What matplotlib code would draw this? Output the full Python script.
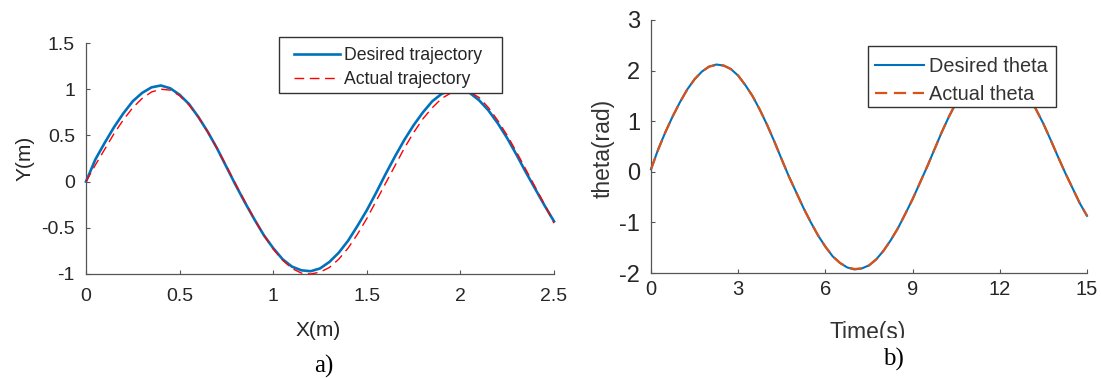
import matplotlib
matplotlib.use("Agg")
import matplotlib.pyplot as plt
from matplotlib.patches import Rectangle

# ---------------- data ----------------
x_pos = [0.00, 0.05, 0.10, 0.15, 0.20, 0.25, 0.30, 0.35, 0.40, 0.45,
         0.50, 0.55, 0.60, 0.65, 0.70, 0.75, 0.80, 0.85, 0.90, 0.95,
         1.00, 1.05, 1.10, 1.15, 1.20, 1.25, 1.30, 1.35, 1.40, 1.45,
         1.50, 1.55, 1.60, 1.65, 1.70, 1.75, 1.80, 1.85, 1.90, 1.95,
         2.00, 2.05, 2.10, 2.15, 2.20, 2.25, 2.30, 2.35, 2.40, 2.45, 2.50]
y_desired = [0.00, 0.24, 0.42, 0.59, 0.74, 0.87, 0.96, 1.02, 1.04, 1.01,
             0.94, 0.84, 0.70, 0.54, 0.36, 0.16, -0.04, -0.23, -0.41, -0.58,
             -0.72, -0.84, -0.92, -0.96, -0.97, -0.94, -0.87, -0.77, -0.64, -0.48,
             -0.31, -0.12, 0.08, 0.27, 0.45, 0.61, 0.75, 0.87, 0.95, 0.99,
             1.00, 0.96, 0.88, 0.77, 0.63, 0.47, 0.29, 0.10, -0.08, -0.26, -0.43]
y_actual = [0.00, 0.18, 0.35, 0.52, 0.67, 0.80, 0.90, 0.97, 1.00, 0.99,
            0.93, 0.83, 0.70, 0.54, 0.36, 0.17, -0.03, -0.22, -0.41, -0.58,
            -0.73, -0.85, -0.94, -0.99, -1.00, -0.98, -0.93, -0.84, -0.72, -0.57,
            -0.40, -0.21, -0.02, 0.17, 0.36, 0.53, 0.68, 0.80, 0.90, 0.96,
            0.99, 0.97, 0.91, 0.80, 0.66, 0.50, 0.32, 0.13, -0.06, -0.25, -0.45]

t_sec = [0.00, 0.25, 0.50, 0.75, 1.00, 1.25, 1.50, 1.75, 2.00, 2.25,
         2.50, 2.75, 3.00, 3.25, 3.50, 3.75, 4.00, 4.25, 4.50, 4.75,
         5.00, 5.25, 5.50, 5.75, 6.00, 6.25, 6.50, 6.75, 7.00, 7.25,
         7.50, 7.75, 8.00, 8.25, 8.50, 8.75, 9.00, 9.25, 9.50, 9.75,
         10.00, 10.25, 10.50, 10.75, 11.00, 11.25, 11.50, 11.75, 12.00, 12.25,
         12.50, 12.75, 13.00, 13.25, 13.50, 13.75, 14.00, 14.25, 14.50, 14.75, 15.00]
theta_desired = [0.05, 0.45, 0.79, 1.10, 1.38, 1.63, 1.83, 1.98, 2.08, 2.12,
                 2.10, 2.03, 1.90, 1.71, 1.49, 1.22, 0.92, 0.59, 0.24, -0.10,
                 -0.41, -0.72, -1.00, -1.26, -1.48, -1.67, -1.80, -1.89, -1.93, -1.91,
                 -1.85, -1.73, -1.56, -1.35, -1.11, -0.83, -0.54, -0.22, 0.10, 0.44,
                 0.78, 1.09, 1.37, 1.61, 1.81, 1.96, 2.06, 2.10, 2.08, 2.01,
                 1.88, 1.70, 1.47, 1.23, 0.95, 0.63, 0.30, -0.02, -0.32, -0.62, -0.87]
theta_actual = [0.05, 0.44, 0.79, 1.10, 1.38, 1.63, 1.83, 1.98, 2.08, 2.11,
                2.10, 2.03, 1.90, 1.71, 1.49, 1.22, 0.92, 0.59, 0.24, -0.10,
                -0.41, -0.72, -1.00, -1.26, -1.48, -1.67, -1.80, -1.89, -1.92, -1.91,
                -1.85, -1.73, -1.56, -1.35, -1.11, -0.83, -0.54, -0.22, 0.10, 0.44,
                0.78, 1.09, 1.37, 1.61, 1.81, 1.96, 2.06, 2.10, 2.08, 2.01,
                1.88, 1.70, 1.47, 1.23, 0.95, 0.63, 0.30, -0.02, -0.32, -0.62, -0.87]

x_ticks = [0, 0.5, 1, 1.5, 2, 2.5]
x_ticklabels = ["0", "0.5", "1", "1.5", "2", "2.5"]
y_ticks = [-1, -0.5, 0, 0.5, 1, 1.5]
y_ticklabels = ["-1", "-0.5", "0", "0.5", "1", "1.5"]
t_ticks = [0, 3, 6, 9, 12, 15]
t_ticklabels = ["0", "3", "6", "9", "12", "15"]
th_ticks = [-2, -1, 0, 1, 2, 3]
th_ticklabels = ["-2", "-1", "0", "1", "2", "3"]

# ---------------- style ----------------
plt.rcParams['font.family'] = ['Liberation Sans', 'DejaVu Sans']
BLUE = '#0072BD'
ORANGE = '#D95319'
RED = '#FF0000'
AXC = '#555555'
TXT = '#262626'
W, H = 1101, 378

fig = plt.figure(figsize=(W / 100, H / 100), dpi=100)
fig.patch.set_facecolor('white')


def px_axes(l, t, r, b):
    return fig.add_axes([l / W, 1 - b / H, (r - l) / W, (b - t) / H])


def style_axes(ax):
    for s in ['top', 'right']:
        ax.spines[s].set_visible(False)
    for s in ['left', 'bottom']:
        ax.spines[s].set_color(AXC)
        ax.spines[s].set_linewidth(0.9)
    ax.tick_params(direction='in', length=3, width=0.8, color=AXC,
                   labelcolor=TXT, top=False, right=False)


def legend_box(ax, box, ax_px):
    """white legend frame drawn at pixel box (l, t, r, b) in figure pixels."""
    l, t, r, b = box
    al, at, ar, ab = ax_px
    x0 = (l - al) / (ar - al)
    y0 = (ab - b) / (ab - at)
    w = (r - l) / (ar - al)
    h = (b - t) / (ab - at)
    ax.add_patch(Rectangle((x0, y0), w, h, transform=ax.transAxes,
                           facecolor='white', edgecolor='#333333', lw=1.0,
                           clip_on=False, zorder=4.5))


# ---------------- panel a ----------------
A1 = (86, 43, 554, 274)
ax1 = px_axes(*A1)
style_axes(ax1)
ax1.plot(x_pos, y_desired, color=BLUE, lw=1.9, label='Desired trajectory',
         clip_on=False, zorder=3)
l_act, = ax1.plot(x_pos, y_actual, color=RED, lw=1.0, ls='--',
                  label='Actual trajectory', clip_on=False, zorder=4)
l_act.set_dashes((7, 4))
ax1.set_xlim(0, 2.5)
ax1.set_ylim(-1, 1.5)
ax1.set_xticks(x_ticks)
ax1.set_xticklabels(x_ticklabels)
ax1.set_yticks(y_ticks)
ax1.set_yticklabels(y_ticklabels)
ax1.tick_params(axis='x', labelsize=14, pad=10)
ax1.tick_params(axis='y', labelsize=14, pad=8)
ax1.set_xlabel('X(m)', fontsize=15, color=TXT)
ax1.set_ylabel('Y(m)', fontsize=15, color=TXT)
ax1.xaxis.label.set(va='center')
ax1.yaxis.label.set(va='center', rotation_mode='default')
ax1.xaxis.set_label_coords((318 - 86) / 468, (274 - 330) / 231)
ax1.yaxis.set_label_coords((25 - 86) / 468, 0.5)
legend_box(ax1, (279, 37, 502, 93), A1)
leg1 = ax1.legend(loc='upper left', bbox_to_anchor=((294 - 86) / 468, (274 - 47) / 231),
                  borderaxespad=0, fontsize=12.7, handlelength=2.6, handletextpad=0.25,
                  borderpad=0, labelspacing=0.42, frameon=False)
leg1.set_zorder(6)
for t in leg1.get_texts():
    t.set_color(TXT)

# ---------------- panel b ----------------
A2 = (651, 20, 1087, 273)
ax2 = px_axes(*A2)
style_axes(ax2)
ax2.plot(t_sec, theta_desired, color=BLUE, lw=1.5, label='Desired theta',
         clip_on=False, zorder=3)
l_th, = ax2.plot(t_sec, theta_actual, color=ORANGE, lw=1.6, ls='--',
                 label='Actual theta', clip_on=False, zorder=4)
l_th.set_dashes((5.5, 3))
ax2.set_xlim(0, 15)
ax2.set_ylim(-2, 3)
ax2.set_xticks(t_ticks)
ax2.set_xticklabels(t_ticklabels)
ax2.set_yticks(th_ticks)
ax2.set_yticklabels(th_ticklabels)
ax2.tick_params(axis='x', labelsize=14.5, pad=5)
ax2.tick_params(axis='y', labelsize=17, pad=8)
ax2.set_xlabel('Time(s)', fontsize=16.5, color='#333333')
ax2.set_ylabel('theta(rad)', fontsize=16.5, color='#333333')
ax2.xaxis.label.set(va='center')
ax2.yaxis.label.set(va='center', rotation_mode='default')
ax2.xaxis.set_label_coords((868 - 651) / 436, (273 - 332) / 253)
ax2.yaxis.set_label_coords((603 - 651) / 436, (273 - 148) / 253)
legend_box(ax2, (868, 46, 1056, 107), A2)
leg2 = ax2.legend(loc='upper left', bbox_to_anchor=((875 - 651) / 436, (273 - 57) / 253),
                  borderaxespad=0, fontsize=14.3, handlelength=2.45, handletextpad=0.25,
                  borderpad=0, labelspacing=0.44, frameon=False)
leg2.set_zorder(6)
for t in leg2.get_texts():
    t.set_color('#333333')

# white band that cuts off the bottom of the "Time(s)" label, as in the reference
fig.patches.append(Rectangle((760 / W, 1 - 350 / H), 220 / W, 12 / H,
                             transform=fig.transFigure, facecolor='white',
                             edgecolor='none', zorder=10))

# panel captions
fig.text(324 / W, 1 - 366 / H, 'a)', fontsize=18, family='Liberation Serif',
         ha='center', va='center', color='black', zorder=11)
fig.text(893 / W, 1 - 359 / H, 'b)', fontsize=18, family='Liberation Serif',
         ha='center', va='center', color='black', zorder=11)

fig.savefig('out.png', dpi=100, facecolor='white')
